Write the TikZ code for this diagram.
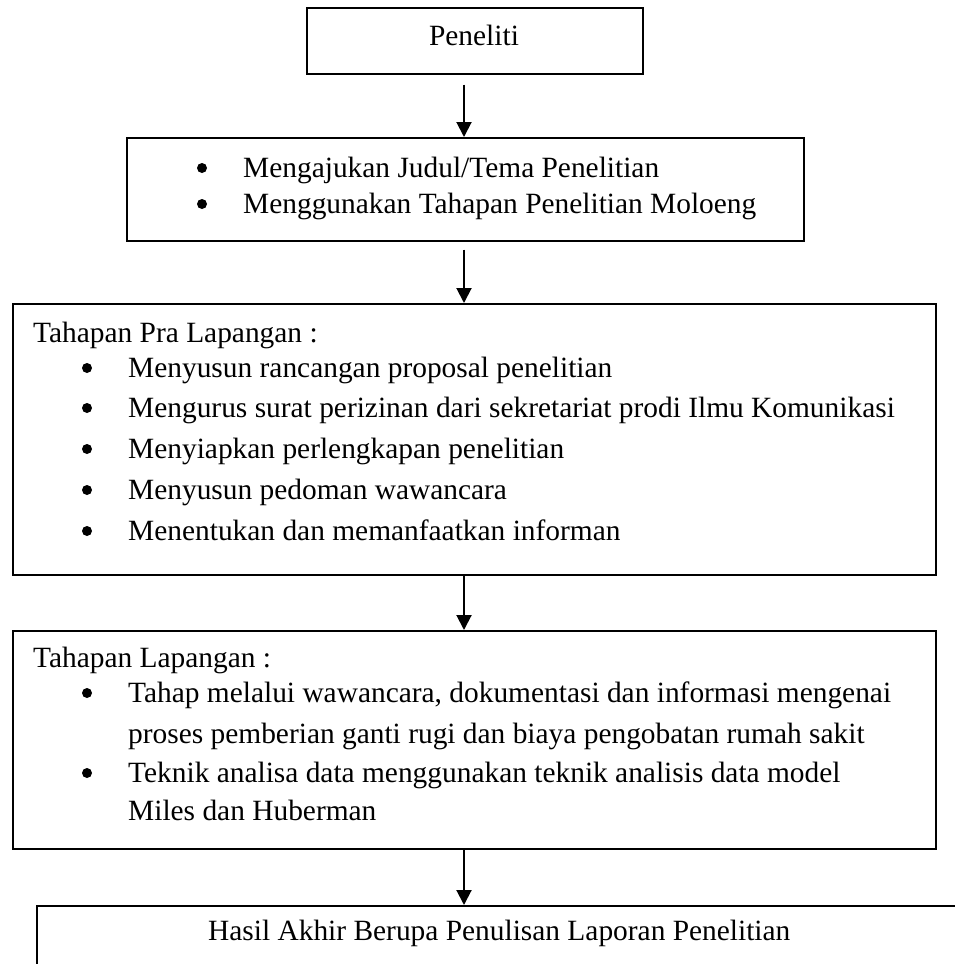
\documentclass[tikz,border=0pt]{standalone}
\usepackage{fontspec}
\setmainfont{Liberation Serif}
\usetikzlibrary{arrows.meta}
\begin{document}
\begin{tikzpicture}[x=1pt,y=-1pt,
  box/.style={draw, line width=1.5pt, rectangle, inner sep=0pt, anchor=north west},
  txt/.style={anchor=base west, inner sep=0pt, font=\fontsize{29.4}{34}\selectfont},
  ctxt/.style={anchor=base, inner sep=0pt, font=\fontsize{29.4}{34}\selectfont},
  dot/.style={circle, fill, inner sep=0pt, minimum size=10pt},
  arr/.style={line width=2pt, -{Triangle[length=15pt,width=15pt]}}]
\useasboundingbox (0,0) rectangle (955,964);
% boxes
\node[box, minimum width=336pt, minimum height=66pt] (b1) at (306,7) {};
\node[box, minimum width=677pt, minimum height=103pt] (b2) at (126,137) {};
\node[box, minimum width=923pt, minimum height=271pt] (b3) at (12,303) {};
\node[box, minimum width=923pt, minimum height=218pt] (b4) at (12,630) {};
\node[box, minimum width=923pt, minimum height=120pt] (b5) at (36,905) {};
% texts
\node[ctxt] (t1) at (474,45) {Peneliti};
\node[dot] (b2a) at (202,168) {};
\node[txt] (t2a) at (243,177) {Mengajukan Judul/Tema Penelitian};
\node[dot] (b2b) at (202,204) {};
\node[txt] (t2b) at (243,213) {Menggunakan Tahapan Penelitian Moloeng};
\node[txt] (t3) at (33,342) {Tahapan Pra Lapangan :};
\node[dot] (b3a) at (87,368) {};
\node[txt] (t3a) at (128,377) {Menyusun rancangan proposal penelitian};
\node[dot] (b3b) at (87,408) {};
\node[txt] (t3b) at (128,417) {Mengurus surat perizinan dari sekretariat prodi Ilmu Komunikasi};
\node[dot] (b3c) at (87,449) {};
\node[txt] (t3c) at (128,458) {Menyiapkan perlengkapan penelitian};
\node[dot] (b3d) at (87,490) {};
\node[txt] (t3d) at (128,499) {Menyusun pedoman wawancara};
\node[dot] (b3e) at (87,531) {};
\node[txt] (t3e) at (128,540) {Menentukan dan memanfaatkan informan};
\node[txt] (t4) at (33,667) {Tahapan Lapangan :};
\node[dot] (b4a) at (87,693) {};
\node[txt] (t4a) at (128,702) {Tahap melalui wawancara, dokumentasi dan informasi mengenai};
\node[txt] (t4a2) at (128,743) {proses pemberian ganti rugi dan biaya pengobatan rumah sakit};
\node[dot] (b4b) at (87,773) {};
\node[txt] (t4b) at (128,782) {Teknik analisa data menggunakan teknik analisis data model};
\node[txt] (t4b2) at (128,820) {Miles dan Huberman};
\node[txt] (t5) at (208,940) {Hasil Akhir Berupa Penulisan Laporan Penelitian};
% arrows
\coordinate (ax) at (464,0);
\draw[arr, shorten <=10pt] (b1.south -| ax) -- (b2.north -| ax);
\draw[arr, shorten <=8pt] (b2.south -| ax) -- (b3.north -| ax);
\draw[arr] (b3.south -| ax) -- (b4.north -| ax);
\draw[arr] (b4.south -| ax) -- (b5.north -| ax);
\end{tikzpicture}
\end{document}
